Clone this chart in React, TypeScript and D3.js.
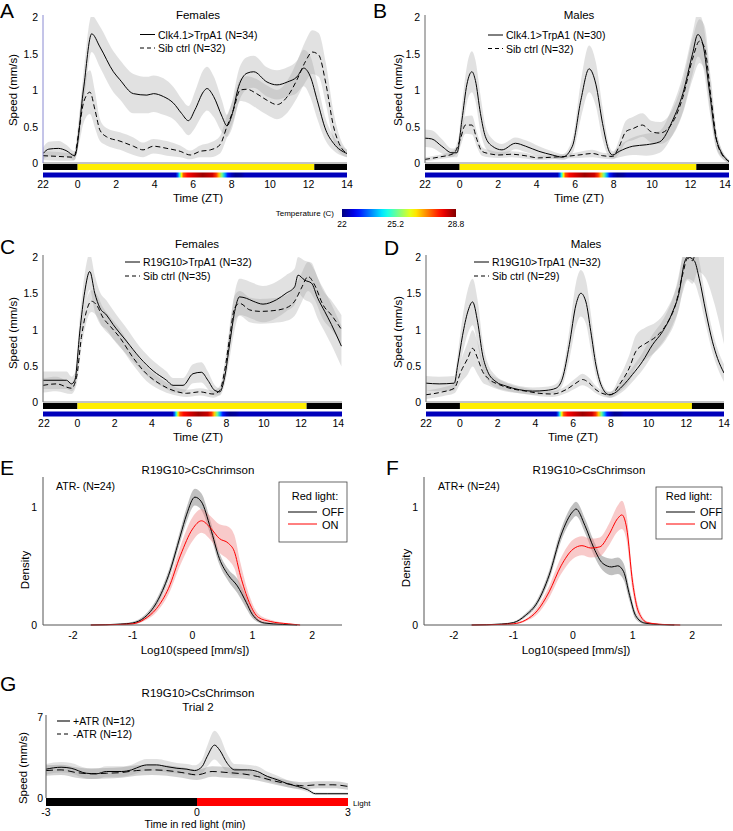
import React from 'react';
import * as d3 from 'd3';

// [x, mean, half-width of shaded band]
type Pt = [number, number, number];

// ---------- Panel A (Clk4.1>TrpA1, females) ----------
const A_TRP: Pt[] = [
  [-1.8, 0.13, 0.08], [-1.5, 0.19, 0.1], [-1.0, 0.2, 0.1], [-0.6, 0.17, 0.08], [-0.15, 0.1, 0.06],
  [0.3, 1.0, 0.22], [0.73, 1.77, 0.25], [1.16, 1.59, 0.28], [1.86, 1.25, 0.28], [2.2, 1.14, 0.27],
  [2.9, 0.95, 0.27], [3.6, 0.93, 0.25], [3.94, 0.95, 0.25], [4.46, 0.91, 0.25], [4.98, 0.82, 0.22],
  [5.4, 0.68, 0.2], [5.76, 0.58, 0.2], [6.1, 0.73, 0.25], [6.55, 0.98, 0.3], [6.72, 1.02, 0.3],
  [7.07, 0.91, 0.28], [7.5, 0.64, 0.22], [7.76, 0.51, 0.15], [8.0, 0.64, 0.18], [8.37, 1.05, 0.22],
  [8.8, 1.23, 0.22], [9.15, 1.25, 0.22], [9.84, 1.11, 0.2], [10.36, 1.07, 0.2], [10.9, 1.11, 0.2],
  [11.4, 1.18, 0.22], [11.75, 1.3, 0.25], [12.1, 1.18, 0.28], [12.45, 0.86, 0.25], [12.9, 0.45, 0.15],
  [13.3, 0.27, 0.1], [14, 0.13, 0.05],
];
const A_SIB: Pt[] = [
  [-1.8, 0.1, 0.06], [-1.0, 0.09, 0.06], [-0.2, 0.08, 0.05], [0.1, 0.5, 0.2], [0.3, 0.82, 0.28],
  [0.64, 0.97, 0.3], [0.9, 0.73, 0.25], [1.16, 0.45, 0.15], [1.5, 0.36, 0.12], [2.2, 0.3, 0.12],
  [2.9, 0.23, 0.12], [3.4, 0.18, 0.1], [3.94, 0.23, 0.1], [4.64, 0.2, 0.1], [5.33, 0.16, 0.08],
  [5.85, 0.11, 0.06], [6.37, 0.16, 0.08], [6.9, 0.18, 0.1], [7.4, 0.25, 0.12], [7.76, 0.5, 0.15],
  [8.1, 0.73, 0.15], [8.45, 1.0, 0.15], [8.8, 1.01, 0.18], [9.3, 0.95, 0.2], [9.84, 0.86, 0.2],
  [10.36, 0.8, 0.2], [10.9, 0.91, 0.22], [11.4, 1.14, 0.25], [11.84, 1.39, 0.28], [12.2, 1.52, 0.3],
  [12.53, 1.48, 0.3], [12.9, 1.09, 0.28], [13.3, 0.5, 0.2], [13.66, 0.23, 0.1], [14, 0.13, 0.05],
];

// ---------- Panel B (Clk4.1>TrpA1, males) ----------
const B_TRP: Pt[] = [
  [-1.8, 0.34, 0.12], [-1.45, 0.33, 0.12], [-0.93, 0.23, 0.1], [-0.4, 0.14, 0.06], [-0.14, 0.14, 0.06],
  [0.12, 0.59, 0.2], [0.38, 1.08, 0.25], [0.64, 1.25, 0.28], [0.82, 1.13, 0.28], [1.08, 0.68, 0.25],
  [1.34, 0.36, 0.15], [1.7, 0.23, 0.1], [2.2, 0.18, 0.08], [2.9, 0.27, 0.08], [3.43, 0.23, 0.08],
  [4.12, 0.16, 0.07], [4.82, 0.11, 0.05], [5.34, 0.08, 0.04], [5.86, 0.23, 0.1], [6.3, 0.86, 0.25],
  [6.73, 1.29, 0.32], [7.08, 1.08, 0.3], [7.43, 0.54, 0.22], [7.77, 0.16, 0.08], [7.95, 0.11, 0.05],
  [8.3, 0.16, 0.08], [9.0, 0.23, 0.12], [9.7, 0.25, 0.15], [10.4, 0.29, 0.15], [11.08, 0.59, 0.2],
  [11.6, 0.95, 0.25], [12.1, 1.49, 0.28], [12.38, 1.76, 0.3], [12.64, 1.63, 0.3], [13.0, 0.95, 0.25],
  [13.34, 0.32, 0.12], [14, 0.02, 0.02],
];
const B_SIB: Pt[] = [
  [-1.8, 0.05, 0.03], [-1.1, 0.08, 0.03], [-0.31, 0.13, 0.04], [0.03, 0.32, 0.1], [0.3, 0.52, 0.12],
  [0.64, 0.52, 0.13], [0.9, 0.32, 0.1], [1.16, 0.16, 0.06], [1.5, 0.13, 0.05], [2.03, 0.11, 0.04],
  [2.7, 0.12, 0.04], [3.4, 0.1, 0.04], [4.1, 0.07, 0.03], [4.82, 0.08, 0.03], [5.5, 0.09, 0.03],
  [6.2, 0.11, 0.04], [6.9, 0.13, 0.05], [7.43, 0.1, 0.04], [7.95, 0.09, 0.04], [8.3, 0.23, 0.1],
  [8.64, 0.43, 0.15], [9.0, 0.47, 0.16], [9.5, 0.52, 0.16], [9.95, 0.43, 0.15], [10.4, 0.41, 0.15],
  [11.08, 0.56, 0.18], [11.6, 0.9, 0.22], [12.1, 1.42, 0.28], [12.47, 1.67, 0.3], [12.73, 1.58, 0.3],
  [13.08, 0.86, 0.25], [13.43, 0.23, 0.1], [14, 0.02, 0.02],
];

// ---------- Panel C (R19G10>TrpA1, females) ----------
const C_TRP: Pt[] = [
  [-1.84, 0.3, 0.12], [-0.59, 0.3, 0.12], [-0.32, 0.25, 0.1], [-0.14, 0.3, 0.1], [0.13, 0.98, 0.2],
  [0.39, 1.52, 0.25], [0.66, 1.8, 0.25], [0.93, 1.5, 0.25], [1.2, 1.3, 0.22], [1.56, 1.2, 0.2],
  [1.91, 1.07, 0.2], [2.63, 0.84, 0.18], [3.35, 0.61, 0.15], [4.06, 0.43, 0.14], [4.78, 0.3, 0.12],
  [5.13, 0.23, 0.1], [5.67, 0.23, 0.1], [6.2, 0.39, 0.13], [6.65, 0.41, 0.14], [7.0, 0.3, 0.12],
  [7.37, 0.16, 0.07], [7.64, 0.14, 0.05], [7.9, 0.34, 0.1], [8.17, 0.8, 0.2], [8.44, 1.25, 0.25],
  [8.7, 1.45, 0.25], [9.07, 1.43, 0.25], [9.43, 1.39, 0.25], [9.96, 1.35, 0.25], [10.68, 1.41, 0.25],
  [11.2, 1.5, 0.25], [11.66, 1.59, 0.25], [11.84, 1.75, 0.25], [12.2, 1.68, 0.27], [12.56, 1.64, 0.28],
  [12.9, 1.43, 0.28], [13.27, 1.25, 0.28], [13.63, 1.07, 0.28], [14.17, 0.77, 0.28],
];
const C_SIB: Pt[] = [
  [-1.84, 0.23, 0.1], [-1.13, 0.25, 0.1], [-0.32, 0.19, 0.08], [-0.05, 0.34, 0.1], [0.21, 0.89, 0.15],
  [0.48, 1.25, 0.15], [0.75, 1.39, 0.15], [1.02, 1.34, 0.15], [1.38, 1.16, 0.14], [1.74, 1.05, 0.13],
  [2.27, 0.89, 0.12], [2.99, 0.61, 0.1], [3.7, 0.39, 0.1], [4.42, 0.25, 0.08], [5.13, 0.16, 0.06],
  [5.85, 0.12, 0.05], [6.57, 0.14, 0.05], [7.28, 0.11, 0.05], [7.64, 0.16, 0.06], [7.9, 0.43, 0.1],
  [8.17, 0.89, 0.15], [8.44, 1.3, 0.17], [8.71, 1.36, 0.17], [9.25, 1.27, 0.17], [9.79, 1.25, 0.17],
  [10.5, 1.26, 0.17], [11.22, 1.3, 0.18], [11.66, 1.39, 0.2], [12.02, 1.57, 0.2], [12.38, 1.73, 0.2],
  [12.74, 1.61, 0.2], [13.18, 1.34, 0.2], [13.63, 1.2, 0.2], [14.17, 1.0, 0.2],
];

// ---------- Panel D (R19G10>TrpA1, males) ----------
const D_TRP: Pt[] = [
  [-1.8, 0.26, 0.1], [-1.1, 0.25, 0.1], [-0.3, 0.26, 0.1], [-0.12, 0.51, 0.15], [0.14, 0.92, 0.25],
  [0.41, 1.24, 0.3], [0.67, 1.38, 0.32], [0.94, 1.1, 0.3], [1.2, 0.65, 0.2], [1.47, 0.42, 0.12],
  [1.91, 0.28, 0.08], [2.44, 0.22, 0.06], [3.14, 0.17, 0.05], [3.85, 0.15, 0.05], [4.56, 0.16, 0.05],
  [5.09, 0.19, 0.06], [5.44, 0.33, 0.1], [5.8, 0.79, 0.2], [6.15, 1.34, 0.3], [6.41, 1.5, 0.32],
  [6.68, 1.38, 0.3], [6.94, 0.97, 0.25], [7.21, 0.51, 0.15], [7.56, 0.19, 0.06], [7.92, 0.1, 0.04],
  [8.18, 0.12, 0.05], [8.62, 0.22, 0.08], [9.15, 0.38, 0.1], [9.68, 0.56, 0.12], [10.21, 0.79, 0.14],
  [10.74, 0.97, 0.15], [11.27, 1.24, 0.18], [11.63, 1.52, 0.22], [11.89, 1.91, 0.28], [12.07, 2.0, 0.3],
  [12.42, 1.95, 0.3], [12.69, 1.7, 0.25], [13.04, 1.24, 0.18], [13.39, 0.83, 0.15], [13.66, 0.6, 0.13],
  [14.0, 0.4, 0.12],
];
const D_SIB: Pt[] = [
  [-1.8, 0.1, 0.06], [-0.92, 0.14, 0.06], [-0.3, 0.19, 0.07], [0.05, 0.42, 0.15], [0.41, 0.6, 0.22],
  [0.67, 0.74, 0.25], [0.94, 0.6, 0.22], [1.2, 0.42, 0.15], [1.47, 0.33, 0.1], [2.08, 0.24, 0.07],
  [2.79, 0.18, 0.05], [3.5, 0.15, 0.04], [4.2, 0.12, 0.04], [4.91, 0.11, 0.04], [5.62, 0.17, 0.05],
  [6.15, 0.26, 0.07], [6.5, 0.31, 0.08], [6.86, 0.26, 0.07], [7.21, 0.17, 0.05], [7.65, 0.11, 0.04],
  [8.0, 0.1, 0.04], [8.45, 0.24, 0.1], [8.98, 0.47, 0.18], [9.33, 0.7, 0.22], [9.86, 0.81, 0.22],
  [10.39, 0.9, 0.2], [10.92, 1.06, 0.2], [11.45, 1.36, 0.22], [11.8, 1.75, 0.25], [12.07, 1.98, 0.3],
  [12.33, 1.95, 0.32], [12.6, 2.2, 0.4], [13.0, 2.3, 0.58], [13.5, 2.25, 0.9], [14.0, 2.1, 1.3],
];

// ---------- Shared time-course axes ----------
const ZT_TICKS = [-1.8, 0, 2, 4, 6, 8, 10, 12, 14];
const ZT_TICK_LABELS = ['22', '0', '2', '4', '6', '8', '10', '12', '14'];
const SPEED_TICKS = [0, 0.5, 1, 1.5, 2];
const LIGHTS_ON = 0;
const LIGHTS_OFF = 12.3;
// [ZT, temperature °C]
const TEMP_PROFILE: [number, number][] = [
  [-1.85, 22.4], [5.1, 22.4], [5.2, 23.4], [5.3, 24.8], [5.4, 26.3], [5.5, 27.4], [5.7, 27.9],
  [6.0, 28.2], [6.5, 28.6], [7.0, 28.3], [7.2, 27.6], [7.35, 26.6], [7.5, 25.3], [7.65, 24.0],
  [7.8, 23.0], [8.0, 22.4], [8.2, 22.1], [8.5, 22.2], [8.7, 22.4], [14.2, 22.4],
];
const TEMP_RANGE = [22, 28.8];
const TEMP_TICKS = [22, 25.2, 28.8];

// ---------- Panels E / F (log speed density) ----------
const E_OFF: Pt[] = [
  [-1.7, 0, 0], [-1.2, 0.008, 0.005], [-1.0, 0.017, 0.01], [-0.8, 0.065, 0.02], [-0.6, 0.19, 0.03],
  [-0.4, 0.42, 0.04], [-0.2, 0.76, 0.05], [-0.1, 0.93, 0.06], [0.04, 1.08, 0.07], [0.15, 1.04, 0.07],
  [0.3, 0.82, 0.06], [0.45, 0.56, 0.05], [0.6, 0.42, 0.05], [0.75, 0.33, 0.06], [0.9, 0.19, 0.05],
  [1.0, 0.09, 0.03], [1.2, 0.017, 0.01], [1.5, 0.005, 0.003], [1.75, 0, 0],
];
const E_ON: Pt[] = [
  [-1.7, 0, 0], [-1.2, 0.005, 0.003], [-1.0, 0.01, 0.005], [-0.8, 0.05, 0.015], [-0.6, 0.14, 0.03],
  [-0.4, 0.31, 0.05], [-0.2, 0.59, 0.08], [0.0, 0.81, 0.1], [0.15, 0.88, 0.1], [0.3, 0.82, 0.1],
  [0.45, 0.73, 0.12], [0.6, 0.69, 0.14], [0.7, 0.62, 0.14], [0.8, 0.42, 0.11], [0.95, 0.19, 0.06],
  [1.1, 0.065, 0.03], [1.3, 0.03, 0.015], [1.6, 0.01, 0.005], [1.8, 0, 0],
];
const F_OFF: Pt[] = [
  [-1.7, 0, 0], [-1.2, 0.008, 0.004], [-1.0, 0.02, 0.008], [-0.8, 0.08, 0.015], [-0.6, 0.19, 0.025],
  [-0.4, 0.42, 0.04], [-0.2, 0.76, 0.05], [0.0, 0.96, 0.06], [0.05, 0.98, 0.06], [0.2, 0.84, 0.06],
  [0.35, 0.65, 0.06], [0.5, 0.52, 0.06], [0.65, 0.49, 0.07], [0.75, 0.5, 0.07], [0.85, 0.45, 0.07],
  [0.95, 0.25, 0.05], [1.05, 0.08, 0.03], [1.2, 0.017, 0.01], [1.5, 0.003, 0.002], [1.7, 0, 0],
];
const F_ON: Pt[] = [
  [-1.7, 0, 0], [-1.2, 0.005, 0.003], [-1.0, 0.01, 0.005], [-0.8, 0.04, 0.01], [-0.6, 0.12, 0.03],
  [-0.4, 0.28, 0.05], [-0.2, 0.5, 0.07], [0.0, 0.64, 0.08], [0.15, 0.67, 0.08], [0.3, 0.65, 0.08],
  [0.45, 0.66, 0.08], [0.6, 0.76, 0.09], [0.75, 0.9, 0.11], [0.82, 0.93, 0.12], [0.9, 0.82, 0.11],
  [1.0, 0.36, 0.07], [1.1, 0.11, 0.04], [1.25, 0.02, 0.01], [1.5, 0.005, 0.003], [1.8, 0, 0],
];
const LOG_TICKS = [-2, -1, 0, 1, 2];
const DENSITY_TICKS = [0, 1];

// ---------- Panel G (CsChrimson trial 2) ----------
const G_ATR: Pt[] = [
  [-3, 2.49, 0.45], [-2.7, 2.66, 0.45], [-2.5, 2.57, 0.45], [-2.2, 2.14, 0.45], [-2.0, 2.09, 0.45],
  [-1.8, 2.29, 0.45], [-1.5, 2.29, 0.45], [-1.3, 2.43, 0.45], [-1.1, 2.77, 0.5], [-1.0, 2.86, 0.5],
  [-0.8, 2.86, 0.5], [-0.6, 2.71, 0.5], [-0.4, 2.57, 0.45], [-0.2, 2.49, 0.45], [-0.05, 2.37, 0.45],
  [0.1, 2.71, 0.6], [0.2, 3.57, 0.9], [0.35, 4.57, 1.25], [0.45, 4.14, 1.2], [0.6, 3.0, 0.8],
  [0.75, 2.43, 0.5], [1.0, 2.43, 0.45], [1.2, 2.29, 0.45], [1.4, 1.86, 0.4], [1.6, 1.57, 0.35],
  [1.8, 1.23, 0.3], [2.0, 1.0, 0.25], [2.2, 0.71, 0.2], [2.35, 0.37, 0.12], [2.6, 0.37, 0.1],
  [3.0, 0.37, 0.1],
];
const G_NOATR: Pt[] = [
  [-3, 2.37, 0.45], [-2.7, 2.43, 0.45], [-2.4, 2.2, 0.45], [-2.1, 2.09, 0.45], [-1.8, 2.14, 0.45],
  [-1.5, 2.2, 0.45], [-1.2, 2.37, 0.45], [-0.9, 2.43, 0.45], [-0.6, 2.37, 0.45], [-0.3, 2.2, 0.45],
  [0.0, 2.0, 0.45], [0.3, 2.29, 0.45], [0.6, 2.2, 0.45], [0.9, 2.09, 0.4], [1.2, 1.86, 0.35],
  [1.5, 1.51, 0.3], [1.8, 1.23, 0.3], [2.1, 1.06, 0.3], [2.4, 1.14, 0.3], [2.7, 1.14, 0.3],
  [3.0, 1.0, 0.28],
];
const G_TICKS = [-3, 0, 3];
const G_SPEED_TICKS = [0, 7];

// ---------- styling ----------
const FONT = '"Liberation Sans", Arial, Helvetica, sans-serif';
const BAND_FILL = '#9c9c9c';
const BAND_OPACITY = 0.3;
const DASH = '5,3';

function jet(v: number): string {
  const c = (x: number) => Math.max(0, Math.min(1, x));
  const r = c(1.5 - Math.abs(4 * v - 3));
  const g = c(1.5 - Math.abs(4 * v - 2));
  const b = c(1.5 - Math.abs(4 * v - 1));
  return d3.rgb(r * 255, g * 255, b * 255).formatHex();
}
const tempNorm = d3.scaleLinear().domain(TEMP_RANGE).range([0, 1]).clamp(true);

type TimeCfg = {
  id: string; letter: string; letterX: number; letterY: number;
  x0: number; x1: number; domain: [number, number]; yTop: number; yBottom: number;
  title: string; titleX: number; titleY: number;
  legX: number; legY: number; legGap: number; labels: [string, string];
  ylabelX: number; ylabelY: number; xlabelX: number; axisColor: string;
  solid: Pt[]; dashed: Pt[];
};

function TimePanel({ c }: { c: TimeCfg }) {
  const x = d3.scaleLinear().domain(c.domain).range([c.x0, c.x1]);
  const y = d3.scaleLinear().domain([0, 2]).range([c.yBottom, c.yTop]);
  const line = d3.line<Pt>().x(d => x(d[0])).y(d => y(d[1])).curve(d3.curveMonotoneX);
  const area = d3.area<Pt>().x(d => x(d[0])).y0(d => y(Math.max(0, d[1] - d[2]))).y1(d => y(d[1] + d[2])).curve(d3.curveMonotoneX);
  const clipId = `clip-${c.id}`;
  const gradId = `temp-${c.id}`;
  const [d0, d1] = c.domain;
  const lightSegs: [number, number, string][] = [
    [d0, LIGHTS_ON, '#000'], [LIGHTS_ON, LIGHTS_OFF, '#ffee00'], [LIGHTS_OFF, d1, '#000'],
  ];
  return (
    <g>
      <defs>
        <clipPath id={clipId}>
          <rect x={c.x0} y={c.yTop} width={c.x1 - c.x0} height={c.yBottom - c.yTop} />
        </clipPath>
        <linearGradient id={gradId} gradientUnits="userSpaceOnUse" x1={c.x0} x2={c.x1} y1={0} y2={0}>
          {TEMP_PROFILE.map(([t, v], i) => (
            <stop key={i} offset={Math.max(0, Math.min(1, (t - d0) / (d1 - d0)))} stopColor={jet(tempNorm(v))} />
          ))}
        </linearGradient>
      </defs>
      <text x={c.letterX} y={c.letterY} fontSize={21} fontFamily={FONT}>{c.letter}</text>
      <g clipPath={`url(#${clipId})`}>
        <path d={area(c.solid) || ''} fill={BAND_FILL} fillOpacity={BAND_OPACITY} />
        <path d={area(c.dashed) || ''} fill={BAND_FILL} fillOpacity={BAND_OPACITY} />
        <path d={line(c.dashed) || ''} fill="none" stroke="#000" strokeWidth={1} strokeDasharray={DASH} />
        <path d={line(c.solid) || ''} fill="none" stroke="#000" strokeWidth={1} />
      </g>
      <line x1={c.x0} x2={c.x0} y1={c.yTop - 2} y2={c.yBottom} stroke={c.axisColor} strokeWidth={1} />
      <line x1={c.x0} x2={c.x1} y1={c.yBottom} y2={c.yBottom} stroke="#888" strokeWidth={1} />
      {SPEED_TICKS.map(v => (
        <text key={v} x={c.x0 - 5} y={y(v)} fontSize={10.5} fontFamily={FONT} textAnchor="end" dominantBaseline="central">{v}</text>
      ))}
      {lightSegs.map(([a, b, col], i) => (
        <rect key={i} x={x(a)} y={c.yBottom + 1} width={x(b) - x(a)} height={6} fill={col} />
      ))}
      <rect x={c.x0} y={c.yBottom + 9.5} width={c.x1 - c.x0} height={5} fill={`url(#${gradId})`} />
      {ZT_TICKS.map((t, i) => (
        <text key={t} x={Math.min(x(t), 725)} y={c.yBottom + 25} fontSize={10.5} fontFamily={FONT} textAnchor="middle">{ZT_TICK_LABELS[i]}</text>
      ))}
      <text x={c.xlabelX} y={c.yBottom + 39} fontSize={11.5} fontFamily={FONT} textAnchor="middle">Time (ZT)</text>
      <text transform={`translate(${c.ylabelX},${c.ylabelY}) rotate(-90)`} fontSize={11.5} fontFamily={FONT} textAnchor="middle" dominantBaseline="central">Speed (mm/s)</text>
      <text x={c.titleX} y={c.titleY} fontSize={11.5} fontFamily={FONT} textAnchor="middle">{c.title}</text>
      <line x1={c.legX} x2={c.legX + 15} y1={c.legY} y2={c.legY} stroke="#000" strokeWidth={1} />
      <text x={c.legX + 18} y={c.legY} fontSize={10.5} fontFamily={FONT} dominantBaseline="central">{c.labels[0]}</text>
      <line x1={c.legX} x2={c.legX + 15} y1={c.legY + c.legGap} y2={c.legY + c.legGap} stroke="#000" strokeWidth={1} strokeDasharray="4,3" />
      <text x={c.legX + 18} y={c.legY + c.legGap} fontSize={10.5} fontFamily={FONT} dominantBaseline="central">{c.labels[1]}</text>
    </g>
  );
}

type DensCfg = {
  id: string; letter: string; letterX: number; letterY: number;
  x0: number; x1: number; yTop: number; yBottom: number;
  titleX: number; ann: string; annX: number;
  box: { x: number; y: number; w: number; h: number };
  legCX: number; legLineX: number; ylabelX: number; ylabelY: number; xlabelX: number;
  off: Pt[]; on: Pt[];
};

function DensityPanel({ c }: { c: DensCfg }) {
  const x = d3.scaleLinear().domain([-2.5, 2.5]).range([c.x0, c.x1]);
  const y = d3.scaleLinear().domain([0, 1.25]).range([c.yBottom, c.yTop]);
  const line = d3.line<Pt>().x(d => x(d[0])).y(d => y(d[1])).curve(d3.curveMonotoneX);
  const area = d3.area<Pt>().x(d => x(d[0])).y0(d => y(Math.max(0, d[1] - d[2]))).y1(d => y(d[1] + d[2])).curve(d3.curveMonotoneX);
  return (
    <g>
      <text x={c.letterX} y={c.letterY} fontSize={21} fontFamily={FONT}>{c.letter}</text>
      <text x={c.titleX} y={474} fontSize={11.5} fontFamily={FONT} textAnchor="middle">R19G10&gt;CsChrimson</text>
      <text x={c.annX} y={490} fontSize={10.5} fontFamily={FONT}>{c.ann}</text>
      <path d={area(c.off) || ''} fill="#8c8c8c" fillOpacity={0.55} />
      <path d={area(c.on) || ''} fill="#f08a8a" fillOpacity={0.45} />
      <path d={line(c.off) || ''} fill="none" stroke="#000" strokeWidth={1} />
      <path d={line(c.on) || ''} fill="none" stroke="#ff0000" strokeWidth={1} />
      <line x1={c.x0} x2={c.x0} y1={c.yTop} y2={c.yBottom} stroke="#555" strokeWidth={1} />
      <line x1={c.x0} x2={c.x1} y1={c.yBottom} y2={c.yBottom} stroke="#555" strokeWidth={1} />
      {DENSITY_TICKS.map(v => (
        <text key={v} x={c.x0 - 6} y={y(v)} fontSize={10.5} fontFamily={FONT} textAnchor="end" dominantBaseline="central">{v}</text>
      ))}
      {LOG_TICKS.map(v => (
        <text key={v} x={x(v)} y={639} fontSize={10.5} fontFamily={FONT} textAnchor="middle">{v}</text>
      ))}
      <text x={c.xlabelX} y={654} fontSize={11.5} fontFamily={FONT} textAnchor="middle">Log10(speed [mm/s])</text>
      <text transform={`translate(${c.ylabelX},${c.ylabelY}) rotate(-90)`} fontSize={11.5} fontFamily={FONT} textAnchor="middle" dominantBaseline="central">Density</text>
      <rect x={c.box.x} y={c.box.y} width={c.box.w} height={c.box.h} fill="#fff" stroke="#444" strokeWidth={0.8} />
      <text x={c.legCX} y={500} fontSize={11} fontFamily={FONT} textAnchor="middle">Red light:</text>
      <line x1={c.legLineX} x2={c.legLineX + 29} y1={512} y2={512} stroke="#000" strokeWidth={1} />
      <text x={c.legLineX + 34} y={512} fontSize={11} fontFamily={FONT} dominantBaseline="central">OFF</text>
      <line x1={c.legLineX} x2={c.legLineX + 29} y1={524} y2={524} stroke="#ff0000" strokeWidth={1} />
      <text x={c.legLineX + 34} y={525} fontSize={11} fontFamily={FONT} dominantBaseline="central">ON</text>
    </g>
  );
}

function TrialPanel() {
  const x0 = 46, x1 = 348, yTop = 717, yBottom = 798;
  const x = d3.scaleLinear().domain([-3, 3]).range([x0, x1]);
  const y = d3.scaleLinear().domain([0, 7]).range([yBottom, yTop]);
  const line = d3.line<Pt>().x(d => x(d[0])).y(d => y(d[1])).curve(d3.curveMonotoneX);
  const area = d3.area<Pt>().x(d => x(d[0])).y0(d => y(Math.max(0, d[1] - d[2]))).y1(d => y(d[1] + d[2])).curve(d3.curveMonotoneX);
  return (
    <g>
      <text x={0} y={691} fontSize={21} fontFamily={FONT}>G</text>
      <text x={198} y={697} fontSize={11.5} fontFamily={FONT} textAnchor="middle">R19G10&gt;CsChrimson</text>
      <text x={198} y={711} fontSize={11.5} fontFamily={FONT} textAnchor="middle">Trial 2</text>
      <path d={area(G_ATR) || ''} fill={BAND_FILL} fillOpacity={0.3} />
      <path d={area(G_NOATR) || ''} fill={BAND_FILL} fillOpacity={0.45} />
      <path d={line(G_NOATR) || ''} fill="none" stroke="#000" strokeWidth={1} strokeDasharray="7,4" />
      <path d={line(G_ATR) || ''} fill="none" stroke="#000" strokeWidth={1} />
      <line x1={x0} x2={x0} y1={yTop - 2} y2={yBottom} stroke="#555" strokeWidth={1} />
      {G_SPEED_TICKS.map(v => (
        <text key={v} x={x0 - 3} y={y(v)} fontSize={10.5} fontFamily={FONT} textAnchor="end" dominantBaseline="central">{v}</text>
      ))}
      <rect x={x(-3)} y={yBottom} width={x(0) - x(-3)} height={8} fill="#000" />
      <rect x={x(0)} y={yBottom} width={x(3) - x(0)} height={8} fill="#ff0000" />
      <text x={353} y={806} fontSize={8} fontFamily={FONT}>Light</text>
      {G_TICKS.map(v => (
        <text key={v} x={x(v)} y={816} fontSize={10.5} fontFamily={FONT} textAnchor="middle">{v}</text>
      ))}
      <text x={195} y={828} fontSize={10.5} fontFamily={FONT} textAnchor="middle">Time in red light (min)</text>
      <text transform="translate(23,768) rotate(-90)" fontSize={11.5} fontFamily={FONT} textAnchor="middle" dominantBaseline="central">Speed (mm/s)</text>
      <line x1={57} x2={70} y1={721} y2={721} stroke="#666" strokeWidth={1.8} />
      <text x={73} y={721} fontSize={10.5} fontFamily={FONT} dominantBaseline="central">+ATR (N=12)</text>
      <line x1={57} x2={70} y1={734} y2={734} stroke="#000" strokeWidth={1} strokeDasharray="4,3" />
      <text x={73} y={734} fontSize={10.5} fontFamily={FONT} dominantBaseline="central">-ATR (N=12)</text>
    </g>
  );
}

function TempColorbar() {
  const cx = d3.scaleLinear().domain(TEMP_RANGE).range([342, 456]);
  const stops = d3.range(0, 1.0001, 0.05);
  return (
    <g>
      <defs>
        <linearGradient id="jetbar" x1="0" x2="1" y1="0" y2="0">
          {stops.map((s, i) => <stop key={i} offset={s} stopColor={jet(s)} />)}
        </linearGradient>
      </defs>
      <text x={334} y={216} fontSize={8} fontFamily={FONT} textAnchor="end">Temperature (C)</text>
      <rect x={cx(TEMP_RANGE[0])} y={209} width={cx(TEMP_RANGE[1]) - cx(TEMP_RANGE[0])} height={8} fill="url(#jetbar)" />
      {TEMP_TICKS.map(v => (
        <text key={v} x={cx(v)} y={227} fontSize={8.5} fontFamily={FONT} textAnchor="middle">{v}</text>
      ))}
    </g>
  );
}

const PANEL_A: TimeCfg = {
  id: 'a', letter: 'A', letterX: 0, letterY: 17.5, x0: 43, x1: 347, domain: [-1.8, 14], yTop: 17, yBottom: 163,
  title: 'Females', titleX: 198, titleY: 19, legX: 140, legY: 34.5, legGap: 13.5,
  labels: ['Clk4.1>TrpA1 (N=34)', 'Sib ctrl (N=32)'], ylabelX: 13, ylabelY: 90, xlabelX: 198, axisColor: '#8a8ad2',
  solid: A_TRP, dashed: A_SIB,
};
const PANEL_B: TimeCfg = {
  id: 'b', letter: 'B', letterX: 373, letterY: 17.5, x0: 425, x1: 729, domain: [-1.8, 14], yTop: 17, yBottom: 163,
  title: 'Males', titleX: 579, titleY: 19, legX: 488, legY: 35, legGap: 13.5,
  labels: ['Clk4.1>TrpA1 (N=30)', 'Sib ctrl (N=32)'], ylabelX: 398, ylabelY: 90, xlabelX: 579, axisColor: '#666',
  solid: B_TRP, dashed: B_SIB,
};
const PANEL_C: TimeCfg = {
  id: 'c', letter: 'C', letterX: 0, letterY: 254, x0: 43, x1: 342, domain: [-1.85, 14.2], yTop: 257, yBottom: 402,
  title: 'Females', titleX: 197, titleY: 248, legX: 125, legY: 262, legGap: 14,
  labels: ['R19G10>TrpA1 (N=32)', 'Sib ctrl (N=35)'], ylabelX: 13, ylabelY: 333, xlabelX: 198, axisColor: '#666',
  solid: C_TRP, dashed: C_SIB,
};
const PANEL_D: TimeCfg = {
  id: 'd', letter: 'D', letterX: 384, letterY: 255, x0: 426, x1: 724, domain: [-1.8, 14], yTop: 257, yBottom: 402,
  title: 'Males', titleX: 586, titleY: 248, legX: 474, legY: 262, legGap: 14,
  labels: ['R19G10>TrpA1 (N=32)', 'Sib ctrl (N=29)'], ylabelX: 398, ylabelY: 332, xlabelX: 573, axisColor: '#666',
  solid: D_TRP, dashed: D_SIB,
};
const PANEL_E: DensCfg = {
  id: 'e', letter: 'E', letterX: 0, letterY: 475, x0: 43, x1: 342, yTop: 477, yBottom: 625,
  titleX: 198, ann: 'ATR- (N=24)', annX: 56, box: { x: 279, y: 482, w: 68, h: 60 },
  legCX: 315, legLineX: 288, ylabelX: 25, ylabelY: 570, xlabelX: 195, off: E_OFF, on: E_ON,
};
const PANEL_F: DensCfg = {
  id: 'f', letter: 'F', letterX: 386, letterY: 475, x0: 424, x1: 722, yTop: 477, yBottom: 625,
  titleX: 589, ann: 'ATR+ (N=24)', annX: 438, box: { x: 656, y: 487, w: 66, h: 52 },
  legCX: 689, legLineX: 666, ylabelX: 406, ylabelY: 568, xlabelX: 576, off: F_OFF, on: F_ON,
};

export default function App() {
  return (
    <svg width={733} height={831} style={{ position: 'absolute', left: 0, top: 0, background: '#fff' }}>
      <rect width={733} height={831} fill="#fff" />
      <TimePanel c={PANEL_A} />
      <TimePanel c={PANEL_B} />
      <TempColorbar />
      <TimePanel c={PANEL_C} />
      <TimePanel c={PANEL_D} />
      <DensityPanel c={PANEL_E} />
      <DensityPanel c={PANEL_F} />
      <TrialPanel />
    </svg>
  );
}
